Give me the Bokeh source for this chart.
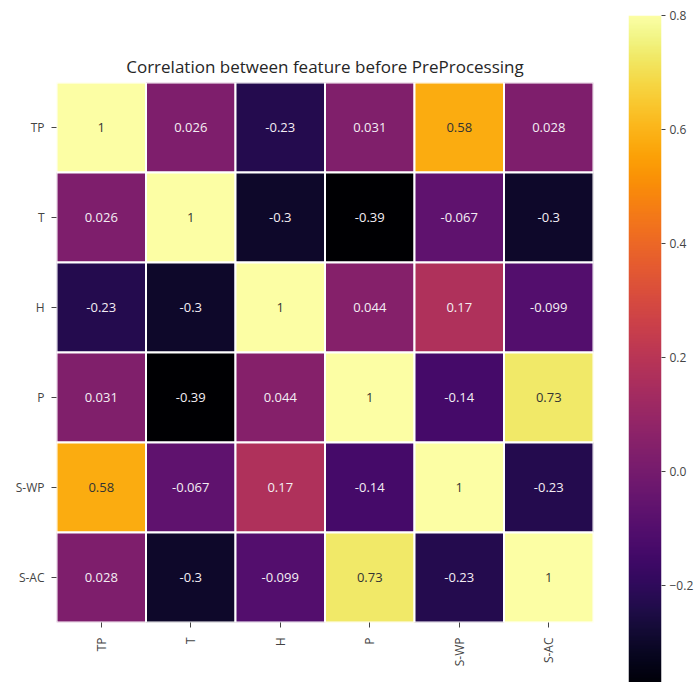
import math
import numpy as np
from bokeh.plotting import figure
from bokeh.models import LinearColorMapper, FixedTicker, ColumnDataSource, Range1d
from bokeh.palettes import Inferno256
from bokeh.layouts import row
from bokeh.transform import transform
from bokeh.core.properties import value
from bokeh.embed import file_html
from bokeh.resources import INLINE

features = ["TP", "T", "H", "P", "S-WP", "S-AC"]
corr_TP = [1, 0.026, -0.23, 0.031, 0.58, 0.028]
corr_T = [0.026, 1, -0.3, -0.39, -0.067, -0.3]
corr_H = [-0.23, -0.3, 1, 0.044, 0.17, -0.099]
corr_P = [0.031, -0.39, 0.044, 1, -0.14, 0.73]
corr_SWP = [0.58, -0.067, 0.17, -0.14, 1, -0.23]
corr_SAC = [0.028, -0.3, -0.099, 0.73, -0.23, 1]
matrix = [corr_TP, corr_T, corr_H, corr_P, corr_SWP, corr_SAC]
vmin, vmax = -0.39, 0.8
cbar_ticks = [-0.2, 0.0, 0.2, 0.4, 0.6, 0.8]

FONT = "Open Sans"
mapper = LinearColorMapper(palette=Inferno256, low=vmin, high=vmax)

xs, ys, vals, labels, tcs = [], [], [], [], []
for i, rname in enumerate(features):
    for j, cname in enumerate(features):
        v = matrix[i][j]
        xs.append(cname)
        ys.append(rname)
        vals.append(v)
        labels.append(format(v, ".2g"))
        tcs.append("#333333" if v > 0.5 else "#f4eef4")
src = ColumnDataSource(dict(x=xs, y=ys, val=vals, label=labels, tc=tcs))

p = figure(width=618, height=682, x_range=features, y_range=list(reversed(features)),
           output_backend="svg", toolbar_location=None,
           min_border_left=56, min_border_right=25, min_border_top=82, min_border_bottom=60,
           title="Correlation between feature before PreProcessing")
p.frame_align = False
p.title.align = "center"
p.title.text_font = FONT
p.title.text_font_size = "17px"
p.title.text_font_style = "normal"
p.title.text_color = "#262626"
p.rect(x="x", y="y", width=1, height=1, source=src,
       fill_color=transform("val", mapper), line_color="white", line_width=2)
p.text(x="x", y="y", text="label", source=src, text_color="tc",
       text_align="center", text_baseline="middle",
       text_font=value(FONT), text_font_size="13px")
p.grid.visible = False
p.outline_line_color = None
for ax in (p.xaxis, p.yaxis):
    ax.axis_line_color = None
    ax.major_tick_line_color = "#444444"
    ax.major_tick_in = 0
    ax.major_tick_out = 5
    ax.major_label_text_font = FONT
    ax.major_label_text_font_size = "12px"
    ax.major_label_text_color = "#444444"
p.yaxis.major_label_standoff = 7
p.xaxis.major_label_standoff = 10
p.xaxis.major_label_orientation = math.pi / 2

# colour bar
grad = np.linspace(vmin, vmax, 256).reshape(-1, 1)
p2 = figure(width=80, height=682, x_range=Range1d(0, 1), y_range=Range1d(-0.37, vmax),
            output_backend="svg", toolbar_location=None,
            x_axis_location=None, y_axis_location="right",
            min_border_left=10, min_border_right=37, min_border_top=15, min_border_bottom=0)
p2.frame_align = False
p2.image(image=[grad], x=0, y=vmin, dw=1, dh=vmax - vmin, color_mapper=mapper)
p2.grid.visible = False
p2.outline_line_color = None
ya = p2.yaxis[0]
ya.ticker = FixedTicker(ticks=cbar_ticks)
ya.major_label_overrides = {t: (("\u2212" if t < 0 else "") + format(abs(t), ".1f")) for t in cbar_ticks}
ya.axis_line_color = None
ya.major_tick_line_color = "#444444"
ya.major_tick_in = 0
ya.major_tick_out = 4
ya.minor_tick_line_color = None
ya.major_label_standoff = 4
ya.major_label_text_font = FONT
ya.major_label_text_font_size = "12px"
ya.major_label_text_color = "#444444"

layout = row(p, p2)
open("out.html", "w").write(file_html(layout, INLINE))
